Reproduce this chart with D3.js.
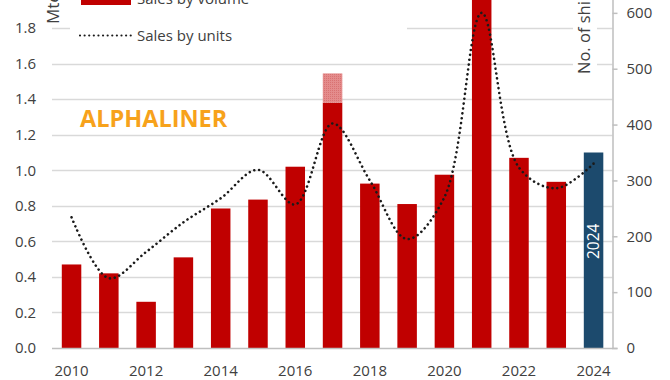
<!DOCTYPE html>
<html>
<head>
<meta charset="utf-8">
<script src="https://cdn.jsdelivr.net/npm/d3@7"></script>
<style>
  html, body { margin: 0; padding: 0; background: #ffffff; }
  svg { display: block; }
  text { font-family: "Open Sans", "Noto Sans", sans-serif; }
</style>
</head>
<body>
<script>
// ---- data ----
const years = ["2010","2011","2012","2013","2014","2015","2016","2017","2018","2019","2020","2021","2022","2023","2024"];
const volume = [0.47, 0.42, 0.26, 0.51, 0.785, 0.835, 1.02, 1.38, 0.925, 0.81, 0.975, 2.10, 1.07, 0.935, 1.10];
const volumeExtra = [0, 0, 0, 0, 0, 0, 0, 0.165, 0, 0, 0, 0, 0, 0, 0];
const units = [234, 125, 172, 225, 268, 319, 257, 402, 300, 195, 270, 600, 323, 286, 330];
const leftTicks = [0, 0.2, 0.4, 0.6, 0.8, 1.0, 1.2, 1.4, 1.6, 1.8, 2.0, 2.2];
const rightTicks = [0, 100, 200, 300, 400, 500, 600, 700];
const xTickLabels = ["2010","2012","2014","2016","2018","2020","2022","2024"];
const highlightYear = "2024";
const legendLabels = ["Sales by volume", "Sales by units"];
const leftTitle = "Mteu";
const rightTitle = "No. of ships";
const watermark = "ALPHALINER";

// ---- layout ----
const W = 670, H = 380;
const svg = d3.select("body").append("svg").attr("width", W).attr("height", H);

const x = d3.scaleBand().domain(years).range([52.9, 612.2]).paddingInner(0.477).paddingOuter(0.2385);
const yL = d3.scaleLinear().domain([0, 2.2]).range([348, -43]);
const yR = d3.scaleLinear().domain([0, 700]).range([348, -43]);

const RED = "#c00000", NAVY = "#1c4a6d", GRID = "#d9d9d9", AXIS = "#bfbfbf", TXT = "#404040";

// pattern for 2017 extra segment
const defs = svg.append("defs");
const pat = defs.append("pattern").attr("id", "pinkdots").attr("width", 2).attr("height", 2)
  .attr("patternUnits", "userSpaceOnUse");
pat.append("rect").attr("width", 2).attr("height", 2).attr("fill", "#e48c8c");
pat.append("rect").attr("width", 1).attr("height", 1).attr("fill", "#d97272");

// gridlines (left ticks)
svg.append("g").selectAll("line").data(leftTicks.filter(d => d > 0)).join("line")
  .attr("x1", 52).attr("x2", 612.5)
  .attr("y1", d => Math.round(yL(d)) + 0.5).attr("y2", d => Math.round(yL(d)) + 0.5)
  .attr("stroke", GRID).attr("stroke-width", 1.6);

// bars
svg.append("g").selectAll("rect").data(years).join("rect")
  .attr("x", d => x(d)).attr("width", x.bandwidth())
  .attr("y", (d, i) => yL(volume[i])).attr("height", (d, i) => yL(0) - yL(volume[i]))
  .attr("fill", d => d === highlightYear ? NAVY : RED);

// extra segment (2017)
svg.append("g").selectAll("rect").data(years.filter((d, i) => volumeExtra[i] > 0)).join("rect")
  .attr("x", d => x(d)).attr("width", x.bandwidth())
  .attr("y", d => { const i = years.indexOf(d); return yL(volume[i] + volumeExtra[i]); })
  .attr("height", d => { const i = years.indexOf(d); return yL(volume[i]) - yL(volume[i] + volumeExtra[i]); })
  .attr("fill", "url(#pinkdots)");

// label inside highlight bar
const hx = x(highlightYear) + x.bandwidth() / 2;
svg.append("text")
  .attr("transform", `translate(${hx + 5.5},${yL(0.6)}) rotate(-90)`)
  .attr("text-anchor", "middle").attr("font-size", 15.5).attr("fill", "#ffffff")
  .text(highlightYear);

// bottom axis line
svg.append("line").attr("x1", 52).attr("x2", 613).attr("y1", 348.5).attr("y2", 348.5)
  .attr("stroke", AXIS).attr("stroke-width", 1.5);

// right axis
const rAxis = d3.axisRight(yR).tickValues(rightTicks).tickSize(5).tickPadding(9).tickFormat(d3.format("d"));
const gR = svg.append("g").attr("transform", "translate(612.5,0)").call(rAxis);
gR.select(".domain").attr("stroke", AXIS).attr("stroke-width", 1.5);
gR.selectAll(".tick line").attr("stroke", AXIS).attr("stroke-width", 1.5);
gR.selectAll(".tick text").attr("font-size", 15).attr("fill", TXT)
  .attr("font-family", "\"Open Sans\", sans-serif");

// left axis labels
const lAxis = d3.axisLeft(yL).tickValues(leftTicks).tickSize(0).tickPadding(0).tickFormat(d3.format(".1f"));
const gL = svg.append("g").attr("transform", "translate(36,0)").call(lAxis);
gL.select(".domain").remove();
gL.selectAll(".tick text").attr("font-size", 15).attr("fill", TXT)
  .attr("font-family", "\"Open Sans\", sans-serif");

// x labels
svg.append("g").selectAll("text").data(xTickLabels).join("text")
  .attr("x", d => x(d) + x.bandwidth() / 2).attr("y", 376)
  .attr("text-anchor", "middle").attr("font-size", 15).attr("fill", TXT)
  .text(d => d);

// units line
const line = d3.line()
  .x((d, i) => x(years[i]) + x.bandwidth() / 2)
  .y(d => yR(d))
  .curve(d3.curveCatmullRom.alpha(0.5));
svg.append("path").datum(units).attr("d", line)
  .attr("fill", "none").attr("stroke", "#1a1a1a").attr("stroke-width", 2.6)
  .attr("stroke-linecap", "round").attr("stroke-dasharray", "0.01 4.9");

// right title with white background
const rt = svg.append("g").attr("transform", "translate(590,74) rotate(-90)");
rt.append("rect").attr("x", -4).attr("y", -17).attr("width", 120).attr("height", 24).attr("fill", "#ffffff");
rt.append("text").attr("font-size", 16.5).attr("fill", TXT).text(rightTitle);

// left title
svg.append("text").attr("transform", "translate(59,24) rotate(-90)")
  .attr("font-size", 17).attr("fill", TXT).text(leftTitle);

// legend
const lg = svg.append("g");
lg.append("rect").attr("x", 70).attr("y", -20).attr("width", 337).attr("height", 66).attr("fill", "#ffffff");
lg.append("rect").attr("x", 81).attr("y", -8).attr("width", 50).attr("height", 13).attr("fill", RED);
lg.append("text").attr("x", 137).attr("y", 4).attr("font-size", 15).attr("fill", TXT).text(legendLabels[0]);
lg.append("line").attr("x1", 80).attr("x2", 131).attr("y1", 35.5).attr("y2", 35.5)
  .attr("stroke", "#1a1a1a").attr("stroke-width", 2.2).attr("stroke-linecap", "round")
  .attr("stroke-dasharray", "0.01 4.6");
lg.append("text").attr("x", 137).attr("y", 41).attr("font-size", 15).attr("fill", TXT).text(legendLabels[1]);

// watermark
svg.append("text").attr("x", 80).attr("y", 127)
  .attr("font-family", "\"Liberation Sans\", Arial, sans-serif").attr("font-weight", "bold")
  .attr("font-size", 23.5).attr("fill", "#f7a21b").text(watermark);
</script>
</body>
</html>
